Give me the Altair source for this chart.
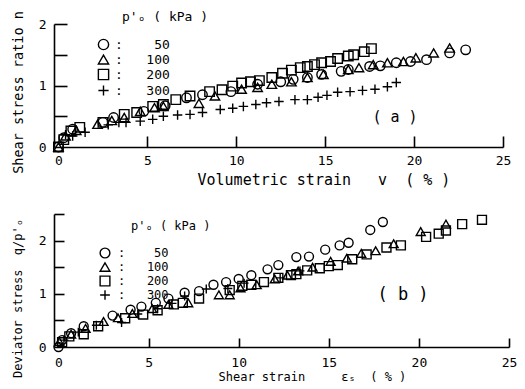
import altair as alt
import pandas as pd

NB = "\u00a0"

# ---------------- data: panel (a) ----------------
a50_x = [0, 0.3, 0.8, 2.5, 3.1, 4.8, 6.0, 7.2, 8.1, 9.7, 11.2, 12.5, 13.2, 14.0, 14.8, 15.9, 16.3, 17.5, 18.1, 19.0, 19.8, 20.7, 22.0, 22.9]
a50_y = [0, 0.15, 0.29, 0.4, 0.48, 0.58, 0.67, 0.8, 0.85, 0.9, 1.02, 1.06, 1.1, 1.13, 1.18, 1.23, 1.26, 1.31, 1.32, 1.37, 1.39, 1.42, 1.53, 1.58]
a100_x = [0, 0.4, 1.0, 2.2, 3.0, 3.7, 4.6, 5.4, 5.9, 7.9, 8.8, 10.3, 11.2, 12.0, 13.1, 14.0, 14.9, 16.3, 16.9, 17.7, 18.5, 19.4, 20.1, 21.1, 22.0]
a100_y = [0, 0.18, 0.27, 0.37, 0.43, 0.48, 0.58, 0.64, 0.66, 0.71, 0.83, 0.94, 0.97, 1.02, 1.06, 1.13, 1.18, 1.26, 1.29, 1.34, 1.37, 1.39, 1.45, 1.53, 1.61]
a200_x = [0, 0.3, 0.7, 1.2, 2.5, 3.7, 4.4, 5.3, 5.9, 6.6, 7.4, 8.5, 9.2, 9.8, 10.3, 10.8, 11.3, 12.0, 12.6, 13.1, 13.6, 14.0, 14.4, 14.8, 15.3, 15.7, 16.3, 16.6, 17.2, 17.6]
a200_y = [0, 0.12, 0.26, 0.32, 0.4, 0.53, 0.56, 0.66, 0.69, 0.77, 0.83, 0.9, 0.93, 0.99, 1.04, 1.06, 1.08, 1.13, 1.2, 1.25, 1.29, 1.31, 1.34, 1.37, 1.39, 1.44, 1.48, 1.5, 1.55, 1.6]
a300_x = [0.4, 0.8, 1.5, 2.8, 3.4, 3.8, 4.6, 5.3, 5.9, 6.7, 7.4, 8.1, 9.1, 9.8, 10.4, 11.1, 11.7, 12.4, 13.3, 14.0, 14.6, 15.1, 15.7, 16.4, 17.1, 17.8, 18.5, 19.0]
a300_y = [0.2, 0.18, 0.24, 0.36, 0.4, 0.4, 0.42, 0.45, 0.5, 0.52, 0.53, 0.56, 0.61, 0.63, 0.66, 0.69, 0.72, 0.74, 0.77, 0.77, 0.81, 0.84, 0.89, 0.9, 0.92, 0.94, 0.98, 1.05]

# ---------------- data: panel (b) ----------------
b50_x = [0, 0.2, 0.7, 1.4, 3.0, 4.0, 4.6, 5.4, 6.1, 7.0, 7.8, 8.6, 9.3, 10.0, 10.7, 11.6, 12.2, 13.2, 13.9, 14.8, 15.6, 16.1, 17.3, 18.0]
b50_y = [0, 0.13, 0.26, 0.39, 0.59, 0.70, 0.76, 0.83, 0.91, 1.02, 1.05, 1.17, 1.22, 1.28, 1.35, 1.46, 1.54, 1.69, 1.7, 1.83, 1.91, 1.96, 2.2, 2.35]
b100_x = [0.05, 0.7, 1.5, 2.5, 3.3, 4.1, 5.2, 6.1, 7.2, 8.9, 9.5, 10.1, 11.0, 12.0, 12.7, 13.3, 14.1, 15.1, 16.0, 16.8, 17.6, 18.6, 20.1, 21.5]
b100_y = [0.1, 0.24, 0.35, 0.48, 0.55, 0.63, 0.72, 0.8, 0.83, 0.98, 0.98, 1.11, 1.17, 1.28, 1.35, 1.43, 1.5, 1.61, 1.67, 1.76, 1.81, 1.94, 2.17, 2.31]
b200_x = [0.2, 0.6, 1.4, 2.2, 3.7, 4.7, 5.5, 6.4, 6.9, 7.8, 9.5, 10.2, 10.7, 11.4, 12.2, 12.9, 13.2, 13.8, 14.5, 15.0, 15.5, 16.3, 17.1, 18.2, 19.0, 20.4, 21.1, 21.5, 22.4, 23.5]
b200_y = [0.09, 0.2, 0.24, 0.39, 0.54, 0.61, 0.69, 0.8, 0.83, 0.91, 1.07, 1.15, 1.17, 1.22, 1.3, 1.35, 1.37, 1.44, 1.48, 1.52, 1.54, 1.65, 1.74, 1.87, 1.91, 2.07, 2.13, 2.19, 2.31, 2.39]
b300_x = [0.3, 1.1, 2.1, 3.5, 4.4, 5.5, 6.3, 7.0, 8.2, 9.4, 10.3, 12.3, 13.4]
b300_y = [0.13, 0.28, 0.41, 0.46, 0.62, 0.72, 0.82, 0.96, 1.09, 1.1, 1.2, 1.3, 1.43]

pressures = ["50", "100", "200", "300"]
shapes = ["circle", "triangle-up", "square", "M-1,0L1,0M0,-1L0,1"]
legend_title = "p'ₒ ( kPa )"

x_label_values = [0, 5, 10, 15, 20, 25]
x_tick_values = [5, 10, 15, 20, 25]
a_y_labels = [0, 1, 2]
a_y_ticks = [0.5, 1, 1.5, 2]
b_y_labels = [0, 1, 2]
b_y_ticks = [0.5, 1, 1.5, 2, 2.5]


def frame(xs_list, ys_list):
    rows = []
    for p, xs, ys in zip(pressures, xs_list, ys_list):
        for xv, yv in zip(xs, ys):
            rows.append({"x": xv, "y": yv, "p": p})
    return pd.DataFrame(rows)


df_a = frame([a50_x, a100_x, a200_x, a300_x], [a50_y, a100_y, a200_y, a300_y])
df_b = frame([b50_x, b100_x, b200_x, b300_x], [b50_y, b100_y, b200_y, b300_y])

FONT = "DejaVu Sans Mono"
label_expr = "':" + NB * 3 + "' + (length(datum.label) < 3 ? '" + NB + "' : '') + datum.label"


def panel(df, w, h, ydom, xtitle, ytitle, xt_size, yt_size, xtick_len, ytick_len,
          y_labels, y_ticks, leg_x, leg_y, leg_font, sym_size, leg_label_off, leg_row_pad,
          lt_x, lt_y, lt_size,
          tag, tag_x, tag_y, tag_size, xtitle_x, x_label_pad, x_title_pad,
          y_title_pad, y_title_y):
    xscale = alt.Scale(domain=[-0.25, 25], nice=False, zero=False)
    yscale = alt.Scale(domain=ydom, nice=False, zero=False)
    pts = alt.Chart(df).mark_point(filled=False, color="black", strokeWidth=1.4,
                                   size=sym_size, opacity=1).encode(
        x=alt.X("x:Q", scale=xscale, axis=alt.Axis(
            orient="bottom", values=x_label_values, ticks=False, grid=False, format="d",
            domainColor="black", domainWidth=1.6, labelFont=FONT, labelFontSize=13,
            labelColor="black", labelPadding=x_label_pad, labelFlush=False,
            labelOverlap=False,
            title=xtitle, titleFont=FONT, titleFontSize=xt_size, titleFontWeight="normal",
            titleColor="black", titleAnchor="start", titleAlign="left", titleX=xtitle_x,
            titlePadding=x_title_pad)),
        y=alt.Y("y:Q", scale=yscale, axis=alt.Axis(
            orient="left", values=y_labels, ticks=False, grid=False,
            labelExpr="format(datum.value, 'd')",
            domainColor="black", domainWidth=1.6, labelFont=FONT, labelFontSize=13,
            labelColor="black", labelPadding=8, labelFlush=False, labelOverlap=False,
            labelSeparation=0,
            title=ytitle, titleFont=FONT, titleFontSize=yt_size, titleFontWeight="normal",
            titleColor="black", titlePadding=y_title_pad, titleY=y_title_y)),
        shape=alt.Shape("p:N", scale=alt.Scale(domain=pressures, range=shapes),
                        legend=alt.Legend(
                            orient="none", legendX=leg_x, legendY=leg_y, title=None,
                            labelExpr=label_expr,
                            labelFont=FONT, labelFontSize=leg_font, labelColor="black",
                            labelOffset=leg_label_off, rowPadding=leg_row_pad,
                            symbolSize=sym_size + 15, symbolStrokeColor="black",
                            symbolStrokeWidth=1.4, symbolFillColor="transparent")),
    )
    ticks = alt.Chart(df).mark_point(opacity=0).encode(
        x=alt.X("x:Q", scale=xscale, axis=alt.Axis(
            orient="bottom", values=x_tick_values, labels=False, domain=False,
            grid=False, ticks=True, tickSize=xtick_len, tickWidth=1.6,
            tickColor="black", offset=-xtick_len, title=None)),
        y=alt.Y("y:Q", scale=yscale, axis=alt.Axis(
            orient="left", values=y_ticks, labels=False, domain=False,
            grid=False, ticks=True, tickSize=ytick_len, tickWidth=1.6,
            tickColor="black", offset=-ytick_len, title=None)),
    )
    lt_df = pd.DataFrame({"t": [legend_title]})
    lt_layer = alt.Chart(lt_df).mark_text(font=FONT, fontSize=lt_size, color="black",
                                          align="left", baseline="middle").encode(
        text="t:N", x=alt.value(lt_x), y=alt.value(lt_y))
    tag_df = pd.DataFrame({"t": [tag]})
    tag_layer = alt.Chart(tag_df).mark_text(font=FONT, fontSize=tag_size, color="black",
                                            baseline="middle").encode(
        text="t:N", x=alt.value(tag_x), y=alt.value(tag_y))
    return alt.layer(pts, ticks, lt_layer, tag_layer).resolve_axis(
        x="independent", y="independent").properties(width=w, height=h)


chart_a = panel(df_a, 449, 123, [0, 2], "Volumetric strain" + NB * 3 + "v" + NB * 2 + "( % )",
                "Shear stress ratio" + NB + "n", 15, 13.5, 11, 13, a_y_labels, a_y_ticks,
                43, 14, 13, 90, 5, -1, 68, -7, 13,
                "( a )", 341, 93, 15, 143, 7, 5, 13, 68)
chart_b = panel(df_b, 455, 133, [0, 2.5], "Shear strain" + NB * 5 + "εₛ" + NB * 2 + "( % )",
                "Deviator stress" + NB * 2 + "q/p'ₒ", 12, 12, 9, 10, b_y_labels, b_y_ticks,
                45, 33, 12, 80, 7, -2, 77, 12, 12,
                "( b )", 349, 81, 17, 164, 9, 2, 14, 84)

chart = alt.vconcat(chart_a, chart_b, spacing=25).resolve_scale(
    shape="independent", x="independent", y="independent").resolve_legend(
    shape="independent").properties(
    padding={"left": 3, "top": 2, "right": 0, "bottom": 2}).configure_view(stroke=None)

chart.save("out.html", embed_options={"renderer": "svg", "actions": False})
